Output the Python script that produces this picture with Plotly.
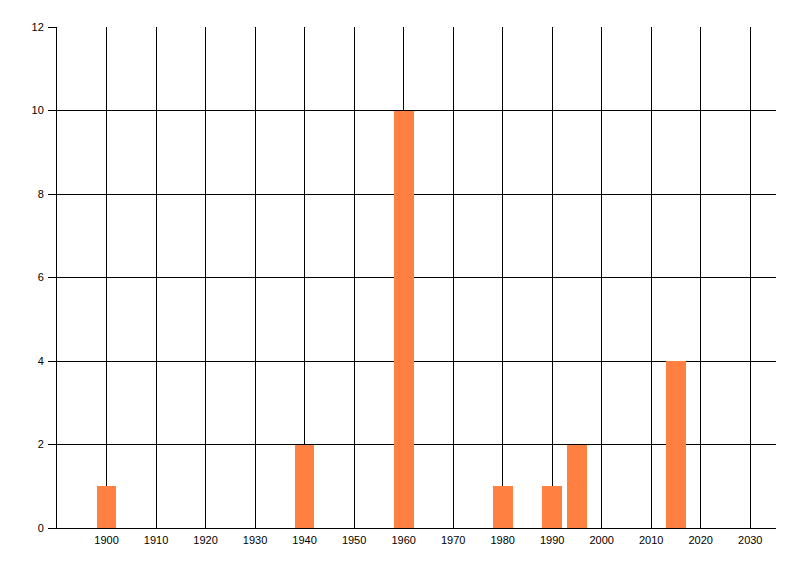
import plotly.graph_objects as go

years = [1900, 1940, 1960, 1980, 1990, 1995, 2015]
counts = [1, 2, 10, 1, 1, 2, 4]
x_ticks = list(range(1900, 2031, 10))
y_ticks = list(range(0, 13, 2))

fig = go.Figure()
fig.add_trace(go.Bar(x=years, y=counts, width=4, marker=dict(color="#FF8040", line=dict(width=0))))

fig.update_layout(
    width=792, height=568,
    margin=dict(l=49, r=24, t=19, b=48, autoexpand=False),
    paper_bgcolor="white", plot_bgcolor="white",
    showlegend=False,
    font=dict(family="Liberation Sans, Arial, sans-serif", size=11, color="black"),
    bargap=0,
)
fig.update_xaxes(
    range=[1890, 2035.2], tickvals=x_ticks, ticktext=[str(v) for v in x_ticks],
    showgrid=True, gridcolor="black", gridwidth=1,
    showline=True, linecolor="black", linewidth=1,
    ticks="", zeroline=False, ticklabelstandoff=2, automargin=False,
)
fig.update_yaxes(
    range=[0, 12], tickvals=y_ticks,
    showgrid=True, gridcolor="black", gridwidth=1,
    showline=True, linecolor="black", linewidth=1,
    ticks="outside", ticklen=8, tickcolor="black", tickwidth=1,
    zeroline=False, ticklabelstandoff=2, automargin=False,
)
fig.write_html("out.html")
